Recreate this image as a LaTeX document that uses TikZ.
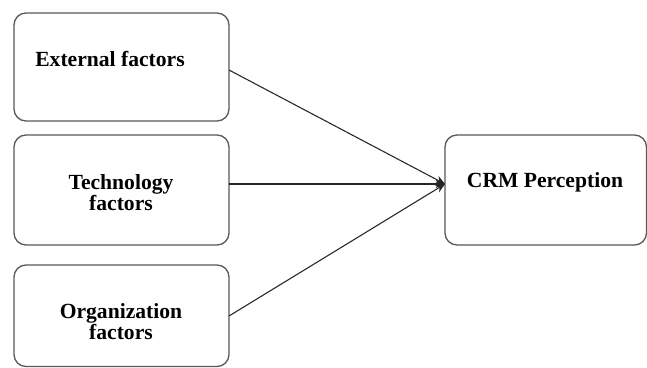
\documentclass[tikz,border=0pt]{standalone}
\usepackage{fontspec}
\setmainfont{Liberation Serif}
\usetikzlibrary{arrows.meta}
\begin{document}
\begin{tikzpicture}[x=0.75pt,y=-0.75pt,
  factorbox/.style={draw=black!65,line width=1pt,rounded corners=9pt},
  lbl/.style={font=\fontsize{16.2}{15.75}\selectfont\bfseries,align=center,inner sep=0pt},
  conn/.style={draw=black!85,line width=0.8pt,-{Stealth[length=7pt,width=6pt]}}]
\path[use as bounding box] (0,0) rectangle (647,368);
\clip (0,0) rectangle (647,368);
\fill[white] (0,0) rectangle (647,368);
\draw[factorbox] (14,13) rectangle (229,121);
\draw[factorbox] (14,135) rectangle (229,245);
\draw[factorbox] (14,265) rectangle (229,366.5);
\draw[factorbox] (445,135) rectangle (646.5,245);
\node[lbl] (ext) at (110,59) {External factors};
\node[lbl] (tech) at (121,193) {Technology\\factors};
\node[lbl] (org) at (121,322) {Organization\\factors};
\node[lbl] (crm) at (545,182) {CRM Perception};
\coordinate (e) at (229,70);
\coordinate (t) at (229,184);
\coordinate (o) at (229,316);
\coordinate (c) at (445,184);
\draw[conn] (e) -- (c);
\draw[conn] (t) -- (c);
\draw[conn] (o) -- (c);
\end{tikzpicture}
\end{document}
